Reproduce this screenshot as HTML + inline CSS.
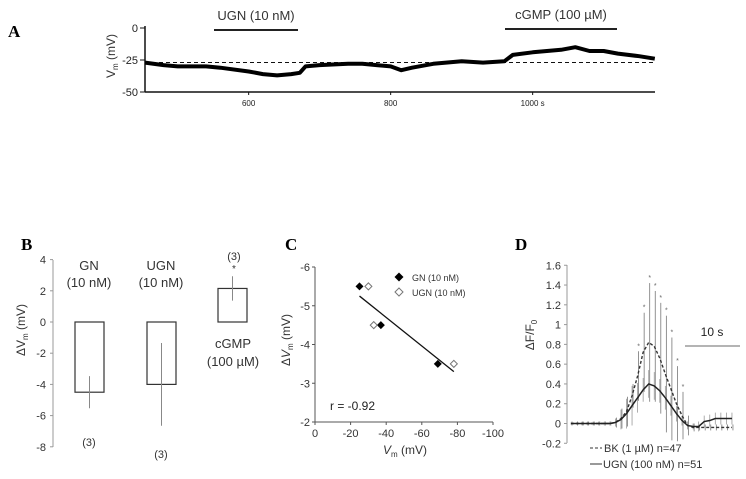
<!DOCTYPE html>
<html><head><meta charset="utf-8"><style>
html,body{margin:0;padding:0;background:#fff;}
svg{display:block;font-family:"Liberation Sans",sans-serif;}
.pl{font-family:"Liberation Serif",serif;font-weight:bold;font-size:17px;}
</style></head><body>
<svg id="fig" width="746" height="479" viewBox="0 0 746 479" xmlns="http://www.w3.org/2000/svg">
<text class="pl" x="8" y="37">A</text>
<text class="pl" x="21" y="250">B</text>
<text class="pl" x="285" y="250">C</text>
<text class="pl" x="515" y="250">D</text>
<g id="pa"></g>
<g id="pb"></g>
<g id="pc"></g>
<g id="pd"></g>
</svg>
<script>
// Panel A data
const aTimes=[454,480,500,540,560,600,620,640,660,672,680,700,740,760,780,800,815,830,860,900,930,960,972,1000,1040,1060,1080,1100,1120,1150,1172];
const aVm=[-27,-29,-30,-30,-31,-34,-36,-37,-36,-35,-30,-29,-28,-28,-29,-30,-33,-31,-28,-26,-27,-26,-21,-19,-17,-15,-18,-18,-20,-22,-24];
const aYTicks=[0,-25,-50];
const aXTicks=[600,800,1000];
const aBaseline=-27;
// Panel B data
const bCats=["GN","UGN","cGMP"];
const bMeans=[-4.5,-4.0,2.15];
const bErrs=[1.03,2.65,0.78];
const bYTicks=[4,2,0,-2,-4,-6,-8];
// Panel C data
const cGnX=[-25,-37,-69], cGnY=[-5.5,-4.5,-3.5];
const cUgnX=[-30,-33,-78], cUgnY=[-5.5,-4.5,-3.5];
const cFitX=[-25,-78], cFitY=[-5.25,-3.3];
const cXTicks=[0,-20,-40,-60,-80,-100];
const cYTicks=[-6,-5,-4,-3,-2];
// Panel D data
const dBk=[0,0,0,0,0,0,0,0,0.01,0.05,0.12,0.28,0.48,0.72,0.82,0.78,0.66,0.5,0.35,0.2,0.08,-0.02,-0.04,-0.04,-0.04,-0.04,-0.04,-0.04,-0.04,-0.04];
const dBkErr=[0.02,0.02,0.02,0.02,0.02,0.02,0.02,0.02,0.05,0.1,0.15,0.12,0.25,0.4,0.6,0.56,0.56,0.59,0.52,0.38,0.24,0.1,0.04,0.03,0.03,0.03,0.03,0.03,0.03,0.03];
const dUgn=[0,0,0,0,0,0,0,0,0.01,0.04,0.1,0.18,0.26,0.34,0.4,0.38,0.33,0.26,0.18,0.1,0.03,-0.02,-0.03,-0.03,0.02,0.03,0.05,0.05,0.05,0.05];
const dUgnErr=[0.01,0.01,0.02,0.02,0.02,0.02,0.02,0.02,0.04,0.1,0.15,0.2,0.15,0.12,0.14,0.14,0.12,0.12,0.1,0.08,0.05,0.04,0.03,0.05,0.06,0.06,0.06,0.06,0.06,0.06];
const dStars=[12,13,14,15,16,17,18,19,20];
const dYTicks=[1.6,1.4,1.2,1,0.8,0.6,0.4,0.2,0,-0.2];

const NS="http://www.w3.org/2000/svg";
function mk(parent,tag,attrs,txt){const e=document.createElementNS(NS,tag);for(const k in attrs)e.setAttribute(k,attrs[k]);if(txt!==undefined)e.textContent=txt;parent.appendChild(e);return e;}

// ---------- Panel A ----------
(function(){
const g=document.getElementById('pa');
const xS=t=>145+(t-454)*0.71, yS=v=>28+(0-v)*1.28;
let e;
e=mk(g,'line',{x1:145,y1:26,x2:145,y2:92,stroke:'#111','stroke-width':1.5});

e=mk(g,'line',{x1:145,y1:92,x2:655,y2:92,stroke:'#111','stroke-width':1.5});

aYTicks.forEach(v=>{mk(g,'line',{x1:140,x2:145,y1:yS(v),y2:yS(v),stroke:'#111'});
 e=mk(g,'text',{x:138,y:yS(v)+4,'text-anchor':'end','font-size':11,fill:'#222'},String(v));
 });
aXTicks.forEach(t=>{mk(g,'line',{x1:xS(t),x2:xS(t),y1:92,y2:95,stroke:'#111'});
 e=mk(g,'text',{x:xS(t),y:106,'text-anchor':'middle','font-size':8,fill:'#222'},t===1000?'1000 s':String(t));
 });
e=mk(g,'text',{transform:'translate(115,56) rotate(-90)','text-anchor':'middle','font-size':12,fill:'#333'},'');
e.innerHTML='V<tspan font-size="8" dy="3">m</tspan><tspan dy="-3"> (mV)</tspan>';

e=mk(g,'line',{x1:145,x2:655,y1:yS(aBaseline),y2:yS(aBaseline),stroke:'#111','stroke-dasharray':'4,3','stroke-width':1});

const d=aTimes.map((t,i)=>(i?'L':'M')+xS(t).toFixed(1)+','+yS(aVm[i]).toFixed(1)).join(' ');
e=mk(g,'path',{d:d,fill:'none',stroke:'#000','stroke-width':4,'stroke-linejoin':'round'});

e=mk(g,'line',{x1:214,x2:298,y1:30,y2:30,stroke:'#222','stroke-width':2});

e=mk(g,'text',{x:256,y:20,'text-anchor':'middle','font-size':13,fill:'#333'},'UGN (10 nM)');

e=mk(g,'line',{x1:505,x2:617,y1:29,y2:29,stroke:'#222','stroke-width':2});

e=mk(g,'text',{x:561,y:19,'text-anchor':'middle','font-size':13,fill:'#333'},'cGMP (100 µM)');

})();

// ---------- Panel B ----------
(function(){
const g=document.getElementById('pb');
const yS=v=>322-v*15.6;
const bx=[75,147,218], bw=29;
let e;
e=mk(g,'line',{x1:53,x2:53,y1:260,y2:447,stroke:'#999'});

bYTicks.forEach(v=>{mk(g,'line',{x1:50,x2:53,y1:yS(v),y2:yS(v),stroke:'#999'});
 e=mk(g,'text',{x:46,y:yS(v)+4,'text-anchor':'end','font-size':11,fill:'#333'},String(v));
 });
e=mk(g,'text',{transform:'translate(25,330) rotate(-90)','text-anchor':'middle','font-size':12,fill:'#333'},'');
e.innerHTML='ΔV<tspan font-size="8" dy="3">m</tspan><tspan dy="-3"> (mV)</tspan>';

bCats.forEach((c,i)=>{const m=bMeans[i];
 e=mk(g,'rect',{x:bx[i],y:Math.min(yS(0),yS(m)),width:bw,height:Math.abs(yS(m)-yS(0)),fill:'none',stroke:'#333','stroke-width':1.2});
 
 e=mk(g,'line',{x1:bx[i]+bw/2,x2:bx[i]+bw/2,y1:yS(m-bErrs[i]),y2:yS(m+bErrs[i]),stroke:'#888'});
 
});
const lab=(x,y,t,n,sz)=>{const e=mk(g,'text',{x:x,y:y,'text-anchor':'middle','font-size':sz||13,fill:'#333'},t);};
lab(89,270,'GN','gn-label');lab(89,287,'(10 nM)','gn-conc-label');
lab(161,270,'UGN','ugn-bar-label');lab(161,287,'(10 nM)','ugn-conc-label');
lab(233,348,'cGMP','cgmp-bar-label');lab(233,366,'(100 µM)','cgmp-conc-label');
lab(89,446,'(3)','gn-n-label',11);lab(161,458,'(3)','ugn-n-label',11);lab(234,260,'(3)','cgmp-n-label',11);
lab(234,272,'*','cgmp-significance',10);
})();

// ---------- Panel C ----------
(function(){
const g=document.getElementById('pc');
const xS=v=>315+(-v)*1.78, yS=v=>422-(v+2)*(-38.75);
let e;
e=mk(g,'line',{x1:315,x2:315,y1:267,y2:422,stroke:'#555'});

e=mk(g,'line',{x1:315,x2:493,y1:422,y2:422,stroke:'#555'});

cYTicks.forEach(v=>{mk(g,'line',{x1:312,x2:315,y1:yS(v),y2:yS(v),stroke:'#555'});
 e=mk(g,'text',{x:310,y:yS(v)+4,'text-anchor':'end','font-size':11,fill:'#333'},String(v));
 });
cXTicks.forEach(v=>{mk(g,'line',{x1:xS(v),x2:xS(v),y1:422,y2:425,stroke:'#555'});
 e=mk(g,'text',{x:xS(v),y:437,'text-anchor':'middle','font-size':11,fill:'#333'},String(v));
 });
e=mk(g,'text',{x:405,y:454,'text-anchor':'middle','font-size':12,fill:'#333'},'');
e.innerHTML='<tspan font-style="italic">V</tspan><tspan font-size="8" dy="3">m</tspan><tspan dy="-3"> (mV)</tspan>';

e=mk(g,'text',{transform:'translate(290,340) rotate(-90)','text-anchor':'middle','font-size':12,fill:'#333'},'');
e.innerHTML='Δ<tspan font-style="italic">V</tspan><tspan font-size="8" dy="3">m</tspan><tspan dy="-3"> (mV)</tspan>';

e=mk(g,'line',{x1:xS(cFitX[0]),y1:yS(cFitY[0]),x2:xS(cFitX[1]),y2:yS(cFitY[1]),stroke:'#111','stroke-width':1.3});

const dia=(x,y,s,fill)=>`M${x},${y-s} L${x+s},${y} L${x},${y+s} L${x-s},${y} Z`;
cGnX.forEach((v,i)=>{e=mk(g,'path',{d:dia(xS(v),yS(cGnY[i]),4),fill:'#000'});
 });
cUgnX.forEach((v,i)=>{e=mk(g,'path',{d:dia(xS(v),yS(cUgnY[i]),3.5),fill:'#fff',stroke:'#777'});
 });
e=mk(g,'path',{d:dia(399,277,4.5),fill:'#000'});
e=mk(g,'text',{x:412,y:281,'font-size':9,fill:'#333'},'GN (10 nM)');
e=mk(g,'path',{d:dia(399,292,4),fill:'#fff',stroke:'#777'});
e=mk(g,'text',{x:412,y:296,'font-size':9,fill:'#333'},'UGN (10 nM)');
e=mk(g,'text',{x:330,y:410,'font-size':12,fill:'#222'},'r = -0.92');
})();

// ---------- Panel D ----------
(function(){
const g=document.getElementById('pd');
const xS=i=>571+i*5.55, yS=v=>423.5-v*98.9;
let e;
e=mk(g,'line',{x1:567,x2:567,y1:265,y2:443,stroke:'#999'});

dYTicks.forEach(v=>{mk(g,'line',{x1:564,x2:567,y1:yS(v),y2:yS(v),stroke:'#999'});
 e=mk(g,'text',{x:561,y:yS(v)+4,'text-anchor':'end','font-size':11,fill:'#333'},String(v));
 });
e=mk(g,'text',{transform:'translate(534,335) rotate(-90)','text-anchor':'middle','font-size':12,fill:'#333'},'');
e.innerHTML='ΔF/F<tspan font-size="8" dy="3">0</tspan>';

dBk.forEach((v,i)=>{e=mk(g,'line',{x1:xS(i)+1,x2:xS(i)+1,y1:yS(v-dBkErr[i]),y2:yS(v+dBkErr[i]),stroke:'#777','stroke-width':0.8});
 });
dUgn.forEach((v,i)=>{e=mk(g,'line',{x1:xS(i),x2:xS(i),y1:yS(v-dUgnErr[i]),y2:yS(v+dUgnErr[i]),stroke:'#999','stroke-width':0.8});
 });
dStars.forEach(i=>{e=mk(g,'text',{x:xS(i)+1,y:yS(dBk[i]+dBkErr[i])-3,'text-anchor':'middle','font-size':7,fill:'#666'},'*');
 });
e=mk(g,'path',{d:dBk.map((v,i)=>(i?'L':'M')+xS(i)+','+yS(v)).join(' '),fill:'none',stroke:'#333','stroke-width':1.4,'stroke-dasharray':'3,2'});

e=mk(g,'path',{d:dUgn.map((v,i)=>(i?'L':'M')+xS(i)+','+yS(v)).join(' '),fill:'none',stroke:'#222','stroke-width':1.5});

e=mk(g,'line',{x1:685,x2:740,y1:346,y2:346,stroke:'#888','stroke-width':1.2});

e=mk(g,'text',{x:712,y:336,'text-anchor':'middle','font-size':12,fill:'#222'},'10 s');

e=mk(g,'line',{x1:590,x2:602,y1:448,y2:448,stroke:'#333','stroke-dasharray':'3,2'});

e=mk(g,'text',{x:604,y:452,'font-size':11,fill:'#333'},'BK (1 µM) n=47');

e=mk(g,'line',{x1:590,x2:602,y1:464,y2:464,stroke:'#333'});

e=mk(g,'text',{x:603,y:468,'font-size':11,fill:'#333'},'UGN (100 nM) n=51');

})();
</script>
</body></html>
